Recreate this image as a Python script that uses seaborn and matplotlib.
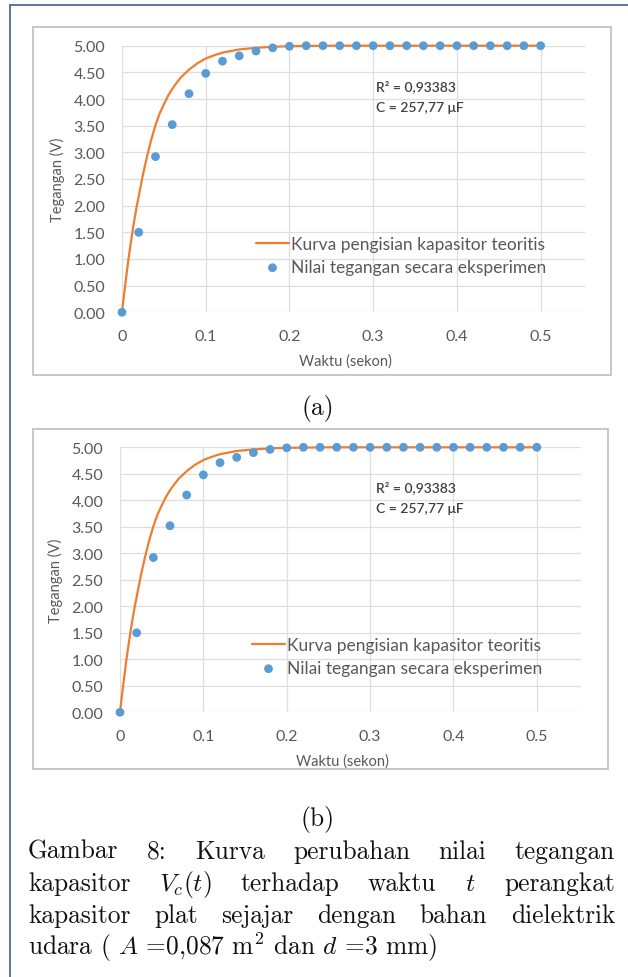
import matplotlib
matplotlib.use("Agg")
import matplotlib.pyplot as plt
import seaborn as sns
from matplotlib.lines import Line2D
from matplotlib.patches import Rectangle

# data
t_exp = [0.00, 0.02, 0.04, 0.06, 0.08, 0.10, 0.12, 0.14, 0.16, 0.18, 0.20, 0.22, 0.24,
         0.26, 0.28, 0.30, 0.32, 0.34, 0.36, 0.38, 0.40, 0.42, 0.44, 0.46, 0.48, 0.50]
v_exp = [0.00, 1.50, 2.92, 3.52, 4.10, 4.48, 4.71, 4.81, 4.90, 4.96, 4.99, 5.00, 5.00,
         5.00, 5.00, 5.00, 5.00, 5.00, 5.00, 5.00, 5.00, 5.00, 5.00, 5.00, 5.00, 5.00]
t_teori = [0.000, 0.0025, 0.005, 0.0075, 0.010, 0.0125, 0.015, 0.0175, 0.020, 0.025,
           0.030, 0.035, 0.040, 0.045, 0.050, 0.055, 0.060, 0.065, 0.070, 0.080,
           0.090, 0.100, 0.110, 0.120, 0.130, 0.140, 0.160, 0.180, 0.200, 0.250,
           0.300, 0.400, 0.500]
v_teori = [0.00, 0.34, 0.66, 0.97, 1.25, 1.51, 1.75, 1.98, 2.18, 2.58,
           2.93, 3.24, 3.51, 3.73, 3.90, 4.06, 4.19, 4.30, 4.40, 4.55,
           4.67, 4.76, 4.82, 4.87, 4.90, 4.93, 4.96, 4.98, 4.99, 5.00,
           5.00, 5.00, 5.00]
x_ticks = [0, 0.1, 0.2, 0.3, 0.4, 0.5]
x_labels = ["0", "0.1", "0.2", "0.3", "0.4", "0.5"]
y_ticks = [0, 0.5, 1, 1.5, 2, 2.5, 3, 3.5, 4, 4.5, 5]
y_labels = ["0.00", "0.50", "1.00", "1.50", "2.00", "2.50", "3.00", "3.50", "4.00", "4.50", "5.00"]
label_teori = "Kurva pengisian kapasitor teoritis"
label_exp = "Nilai tegangan secara eksperimen"
r2_text = "R² = 0,93383"
c_text = "C = 257,77 μF"
caption_lines = [
    "Gambar 8: Kurva perubahan nilai tegangan",
    "kapasitor $V_c(t)$ terhadap waktu $t$ perangkat",
    "kapasitor plat sejajar dengan bahan dielektrik",
    "udara ( $A$ =0,087 m$^2$ dan $d$ =3 mm)",
]

sns.set_style("white")
plt.rcParams["font.family"] = ["Lato", "DejaVu Sans"]
plt.rcParams["mathtext.fontset"] = "cm"

W, H = 628, 978
fig = plt.figure(figsize=(W / 100, H / 100), dpi=100)


def fx(x):
    return x / W


def fy(y):
    return 1 - y / H


ORANGE = "#ED7D31"
BLUE = "#5B9BD5"
GREY = "#595959"


def panel(box, frame, leg_xy, ann_xy, ylab_xy, xlab_xy):
    x0, y0, x1, y1 = box
    ax = fig.add_axes([fx(x0), fy(y1), (x1 - x0) / W, (y1 - y0) / H])
    sns.lineplot(x=t_teori, y=v_teori, ax=ax, color=ORANGE, lw=1.6,
                 label=label_teori, clip_on=False, zorder=2)
    sns.scatterplot(x=t_exp, y=v_exp, ax=ax, color=BLUE, s=40, edgecolor="none",
                    label=label_exp, clip_on=False, zorder=3)
    ax.set_xlim(0, 0.553)
    ax.set_ylim(0, 5)
    ax.set_xticks(x_ticks, x_labels)
    ax.set_yticks(y_ticks, y_labels)
    ax.tick_params(length=0, labelsize=11.5, colors=GREY)
    ax.tick_params(axis="y", pad=12)
    ax.tick_params(axis="x", pad=12)
    ax.grid(True, color="#dedede", lw=0.9)
    for s in ax.spines.values():
        s.set_visible(False)
    ax.set_xlabel("")
    ax.set_ylabel("")
    lx, ly = leg_xy
    ax.legend(loc="upper left", bbox_to_anchor=(fx(lx), fy(ly)),
              bbox_transform=fig.transFigure, frameon=False, fontsize=12.5,
              handlelength=1.9, handletextpad=0.1, labelspacing=0.42,
              borderpad=0, borderaxespad=0, labelcolor=GREY)
    ax_, ay_ = ann_xy
    fig.text(fx(ax_), fy(ay_), r2_text, fontsize=10, color="#404040",
             ha="left", va="center", fontweight="semibold")
    fig.text(fx(ax_), fy(ay_ + 21), c_text, fontsize=10, color="#404040",
             ha="left", va="center", fontweight="semibold")
    fig.text(fx(ylab_xy[0]), fy(ylab_xy[1]), "Tegangan (V)", rotation=90,
             fontsize=10.5, color=GREY, ha="center", va="center")
    fig.text(fx(xlab_xy[0]), fy(xlab_xy[1]), "Waktu (sekon)",
             fontsize=10.5, color=GREY, ha="center", va="center")
    fx0, fy0, fx1, fy1 = frame
    fig.add_artist(Rectangle((fx(fx0), fy(fy1)), (fx1 - fx0) / W, (fy1 - fy0) / H,
                             transform=fig.transFigure, fill=False,
                             edgecolor="#c4c4c4", lw=1.3))
    return ax


panel((122, 46.7, 585, 313.3), (33, 28, 611, 376), (256, 237), (376, 87), (57, 180), (345, 362))
panel((120, 448.3, 581, 713.3), (33, 430, 608, 770), (252, 638), (376, 488), (55, 581), (342, 762))

# outer frame (left and top edges)
fig.add_artist(Line2D([fx(10), fx(10)], [0, fy(6)], transform=fig.transFigure,
                      color="#4a6b9a", lw=1.3))
fig.add_artist(Line2D([fx(10), 1], [fy(6), fy(6)], transform=fig.transFigure,
                      color="#4a6b9a", lw=1.3))

serif = dict(family="cmr10", fontsize=18.3, color="#111111")
fig.text(fx(318), fy(408), "(a)", ha="center", va="center", **serif)
fig.text(fx(318), fy(820), "(b)", ha="center", va="center", **serif)

# justified caption
renderer = fig.canvas.get_renderer()
left, right = 28, 615
line_y = [859, 891, 923, 955]
for i, line in enumerate(caption_lines):
    if i == len(caption_lines) - 1:
        fig.text(fx(left), fy(line_y[i]), line, ha="left", va="baseline", **serif)
        continue
    words = line.split(" ")
    texts = [fig.text(0, fy(line_y[i]), w, ha="left", va="baseline", **serif) for w in words]
    widths = [t.get_window_extent(renderer).width for t in texts]
    gap = (right - left - sum(widths)) / (len(words) - 1)
    x = left
    for t, w in zip(texts, widths):
        t.set_x(fx(x))
        x += w + gap

fig.savefig("out.png", dpi=100)
